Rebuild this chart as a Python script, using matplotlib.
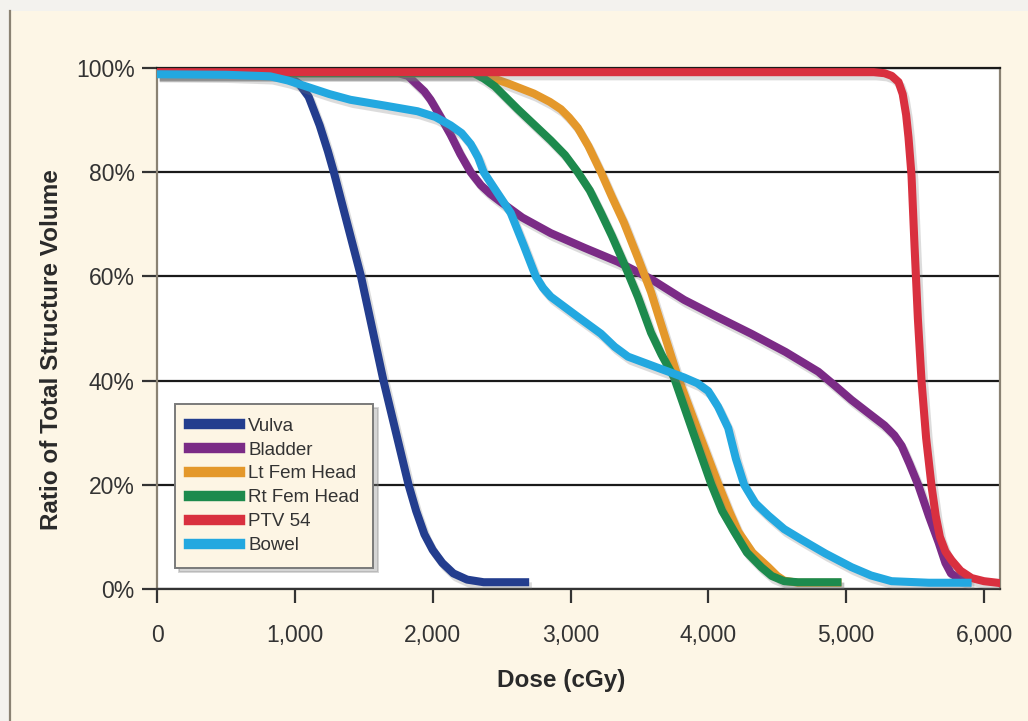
import matplotlib
matplotlib.use('Agg')
import matplotlib.pyplot as plt
import matplotlib.patheffects as pe
from matplotlib.patches import Rectangle
from matplotlib.lines import Line2D
from matplotlib.ticker import FuncFormatter

plt.rcParams['font.family'] = ['Liberation Sans', 'DejaVu Sans']

# dose volume histogram
names = ['Vulva', 'Bladder', 'Lt Fem Head', 'Rt Fem Head', 'PTV 54', 'Bowel']
colors = ['#233d8e', '#7b2b86', '#e4982b', '#1d8a4d', '#d9303f', '#23a8e0']

vulva_x = [0, 850, 950, 1030, 1100, 1180, 1240, 1283, 1480, 1643, 1825, 1880,
           1940, 2000, 2070, 2150, 2250, 2370, 2700]
vulva_y = [99, 99, 98.5, 97, 94.5, 89, 84, 80, 60, 40, 20, 15,
           10.5, 7.5, 5, 3, 1.8, 1.3, 1.3]

bladder_x = [0, 1750, 1820, 1880, 1940, 1985, 2060, 2130, 2200, 2276, 2350, 2420,
             2494, 2650, 2857, 3100, 3344, 3584, 3824, 4060, 4311, 4560, 4798, 4920,
             5038, 5160, 5278, 5350, 5402, 5460, 5525, 5600, 5671, 5720, 5760, 5820, 5889]
bladder_y = [99, 99, 98.5, 97, 95.5, 93.9, 90.5, 87.2, 83.5, 80, 77.5, 75.8,
             74.3, 71.3, 68.3, 65.5, 62.8, 59.5, 55.5, 52.3, 49, 45.5, 41.7, 39,
             36.3, 33.8, 31.4, 29.5, 27.5, 24, 19.8, 14, 8.9, 5, 3, 2, 1.4]

ltfem_x = [0, 2350, 2421, 2550, 2734, 2850, 2930, 2990, 3053, 3130, 3221, 3300,
           3388, 3490, 3584, 3679, 3780, 3930, 4071, 4150, 4217, 4320, 4435, 4500,
           4551, 4650, 4966]
ltfem_y = [99, 99, 98.2, 97, 95.1, 93.5, 92.1, 90.5, 88.5, 85, 80, 75.3,
           70.3, 63.5, 57, 49, 40.6, 30, 20.2, 15, 11, 7, 4.2, 2.5,
           1.6, 1.2, 1.2]

rtfem_x = [0, 2300, 2370, 2450, 2617, 2857, 2960, 3053, 3140, 3221, 3300, 3388,
           3490, 3584, 3660, 3751, 3890, 4020, 4100, 4188, 4280, 4384, 4460, 4551,
           4650, 4966]
rtfem_y = [99, 99, 98, 96.5, 92.1, 86.1, 83.3, 80, 76.5, 72.2, 67.8, 62.5,
           56, 49.2, 45, 40.6, 30, 20.2, 15, 11, 7, 4.2, 2.5, 1.5,
           1.3, 1.3]

ptv_x = [0, 5200, 5278, 5330, 5380, 5410, 5435, 5452, 5474, 5496, 5520, 5547,
         5580, 5620, 5650, 5680, 5720, 5765, 5830, 5910, 6000, 6128]
ptv_y = [99.2, 99.2, 99, 98.5, 97.3, 95, 91, 86.7, 79.4, 65.8, 52, 39.8,
         29, 19.6, 14, 10, 7.2, 5.5, 3.5, 2.1, 1.5, 1.1]

bowel_x = [0, 500, 821, 950, 1112, 1250, 1403, 1650, 1890, 2020, 2130, 2210,
           2276, 2330, 2370, 2470, 2566, 2660, 2748, 2800, 2857, 3040, 3221, 3320,
           3417, 3620, 3824, 3920, 3999, 4070, 4144, 4200, 4260, 4340, 4435, 4550,
           4675, 4850, 5038, 5180, 5329, 5600, 5910]
bowel_y = [98.8, 98.7, 98.4, 97.6, 96.2, 95, 93.9, 92.8, 91.7, 90.6, 89, 87.5,
           85.4, 82.8, 80, 76, 72.2, 66, 60, 57.8, 56.1, 52.5, 49, 46.5,
           44.6, 42.6, 40.6, 39.5, 38, 35, 30.9, 25, 20, 16.5, 14.1, 11.5,
           9.5, 6.8, 4.2, 2.6, 1.5, 1.2, 1.2]

xs = [vulva_x, bladder_x, ltfem_x, rtfem_x, ptv_x, bowel_x]
ys = [vulva_y, bladder_y, ltfem_y, rtfem_y, ptv_y, bowel_y]

x_ticks = [0, 1000, 2000, 3000, 4000, 5000, 6000]
y_ticks = [0, 20, 40, 60, 80, 100]

W, H = 1028, 721
fig = plt.figure(figsize=(W / 100, H / 100), dpi=100)
fig.patch.set_facecolor('#f3f2ee')

# cream panel behind the chart
fig.add_artist(Rectangle((10 / W, 0), 1, (H - 11) / H, transform=fig.transFigure,
                         facecolor='#fdf6e6', edgecolor='none', zorder=-5))
fig.add_artist(Line2D([9.5 / W, 9.5 / W], [0, (H - 11) / H], transform=fig.transFigure,
                      color='#8a8273', lw=1.6, zorder=-4))

ax = fig.add_axes([157 / W, (H - 589) / H, 843 / W, (589 - 68) / H])
ax.set_zorder(2)
ax.set_facecolor('white')

shadow = [pe.SimpleLineShadow(offset=(2, -3), shadow_color='#777777', alpha=0.25), pe.Normal()]
for i in range(len(names)):
    ax.plot(xs[i], ys[i], color=colors[i], lw=5.8, solid_capstyle='butt',
            solid_joinstyle='round', zorder=3 + i, path_effects=shadow)

ax.set_xlim(0, 6116)
ax.set_ylim(0, 100)
ax.set_xticks(x_ticks)
ax.set_yticks(y_ticks)
ax.xaxis.set_major_formatter(FuncFormatter(lambda v, p: '{:,}'.format(int(v))))
ax.yaxis.set_major_formatter(FuncFormatter(lambda v, p: '{:d}%'.format(int(v))))

ax.grid(axis='y', color='#1a1a1a', lw=1.6, zorder=1)
ax.set_axisbelow(True)

for s in ['left', 'right']:
    ax.spines[s].set_color('#8a8273')
    ax.spines[s].set_linewidth(1.6)
ax.spines['bottom'].set_color('#333333')
ax.spines['bottom'].set_linewidth(1.6)
ax.spines['top'].set_color('#1a1a1a')
ax.spines['top'].set_linewidth(1.6)

ax.tick_params(axis='y', direction='out', length=11, width=1.6, color='#333333',
               labelsize=16.5, labelcolor='#333333', pad=5)
ax.tick_params(axis='x', direction='out', length=10, width=1.6, color='#333333',
               labelsize=16.5, labelcolor='#333333', pad=15)

ax.set_xlabel('Dose (cGy)', fontsize=17.5, fontweight='bold', color='#2a2a2a')
ax.set_ylabel('Ratio of Total Structure Volume', fontsize=17.5, fontweight='bold', color='#2a2a2a')
ax.xaxis.set_label_coords(0.48, -0.153)
ax.yaxis.set_label_coords(-0.112, 0.46)

handles = [Line2D([], [], color=c, lw=7.5) for c in colors]
leg = ax.legend(handles, names, loc='lower left', bbox_to_anchor=(0.0214, 0.040),
                borderaxespad=0, fontsize=13.5, frameon=True, fancybox=False,
                handlelength=2.7, handletextpad=0.45, labelspacing=0.36,
                borderpad=0.75, shadow={'color': '#888888', 'alpha': 0.35, 'ox': 3, 'oy': -3})
leg.get_frame().set_facecolor('#fdf5e4')
leg.get_frame().set_edgecolor('#7a7a7a')
leg.get_frame().set_linewidth(1.4)
for t in leg.get_texts():
    t.set_color('#333333')
leg.set_zorder(20)

fig.savefig('out.png', dpi=100, facecolor=fig.get_facecolor())
